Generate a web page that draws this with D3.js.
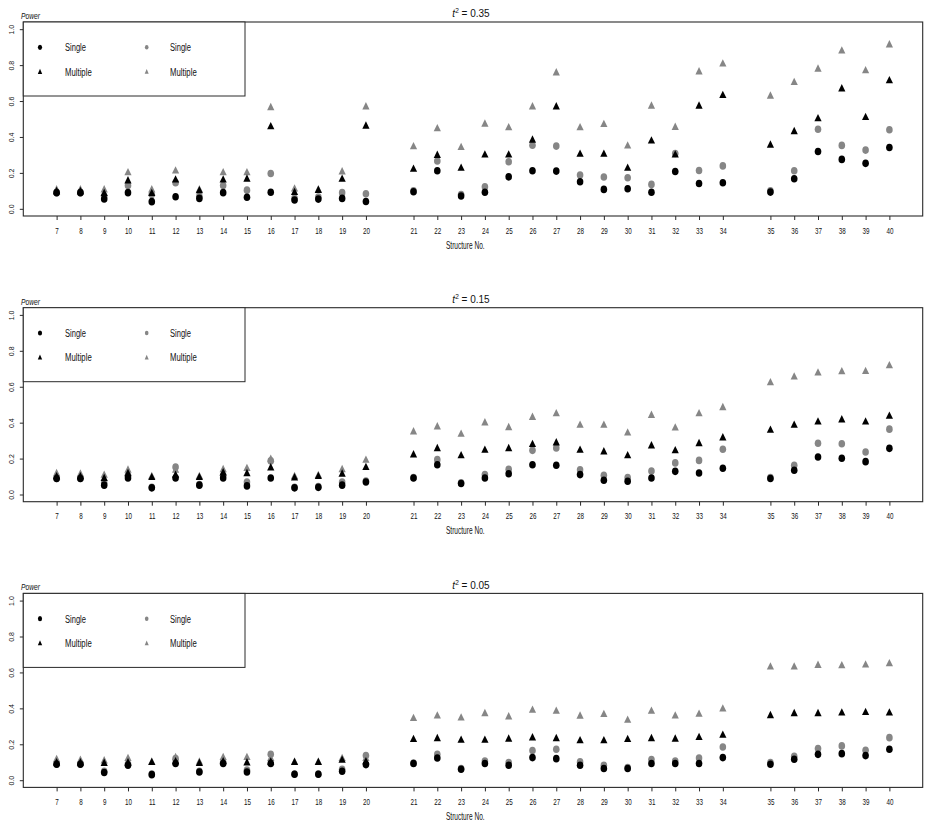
<!DOCTYPE html>
<html><head><meta charset="utf-8">
<script src="https://cdn.jsdelivr.net/npm/d3@7"></script>
<style>
body{margin:0;background:#fff}
svg{display:block;font-family:"Liberation Sans",Arial,Helvetica,sans-serif}
</style>
</head><body>
<svg id="chart" width="935" height="828"></svg>
<script>
// ---------- data ----------
const structureGroups = [
  [7,8,9,10,11,12,13,14,15,16,17,18,19,20],
  [21,22,23,24,25,26,27,28,29,30,31,32,33,34],
  [35,36,37,38,39,40]
];
const yTicks = [0, 0.2, 0.4, 0.6, 0.8, 1.0];
const panelT2 = ["0.35", "0.15", "0.05"];
const legendLabels = ["Single", "Multiple"];

// t^2 = 0.35
const t035_singleBlack   = [0.09,0.09,0.055,0.09,0.04,0.067,0.058,0.09,0.064,0.092,0.049,0.054,0.058,0.041,0.095,0.212,0.071,0.092,0.178,0.212,0.21,0.151,0.108,0.112,0.092,0.208,0.141,0.145,0.093,0.167,0.319,0.275,0.253,0.341];
const t035_multipleBlack = [0.095,0.095,0.085,0.155,0.085,0.16,0.1,0.16,0.165,0.456,0.09,0.102,0.164,0.46,0.22,0.297,0.225,0.299,0.299,0.382,0.567,0.303,0.303,0.225,0.377,0.299,0.571,0.63,0.354,0.429,0.501,0.667,0.508,0.712];
const t035_singleGrey    = [0.09,0.09,0.07,0.13,0.08,0.145,0.07,0.13,0.104,0.197,0.058,0.065,0.09,0.084,0.1,0.266,0.08,0.123,0.262,0.354,0.349,0.188,0.177,0.173,0.136,0.308,0.213,0.239,0.1,0.212,0.443,0.353,0.327,0.44];
const t035_multipleGrey  = [0.105,0.105,0.105,0.2,0.105,0.21,0.105,0.2,0.2,0.563,0.11,0.105,0.205,0.567,0.345,0.445,0.341,0.471,0.451,0.567,0.756,0.451,0.469,0.349,0.571,0.453,0.762,0.806,0.627,0.703,0.777,0.878,0.768,0.912];

// t^2 = 0.15
const t015_singleBlack   = [0.089,0.089,0.052,0.092,0.037,0.092,0.052,0.092,0.048,0.092,0.037,0.04,0.052,0.07,0.092,0.166,0.061,0.092,0.116,0.166,0.163,0.111,0.079,0.074,0.092,0.129,0.12,0.146,0.089,0.135,0.209,0.202,0.183,0.257];
const t015_multipleBlack = [0.098,0.098,0.089,0.116,0.094,0.107,0.094,0.12,0.116,0.148,0.092,0.1,0.113,0.15,0.22,0.255,0.215,0.246,0.255,0.278,0.287,0.246,0.237,0.215,0.27,0.243,0.283,0.315,0.357,0.385,0.403,0.415,0.403,0.435];
const t015_singleGrey    = [0.09,0.09,0.066,0.107,0.04,0.153,0.055,0.107,0.07,0.187,0.04,0.045,0.07,0.075,0.095,0.194,0.065,0.111,0.14,0.246,0.259,0.138,0.107,0.094,0.131,0.176,0.19,0.252,0.094,0.163,0.285,0.283,0.237,0.364];
const t015_multipleGrey  = [0.116,0.113,0.107,0.135,0.1,0.135,0.1,0.138,0.144,0.196,0.1,0.105,0.138,0.19,0.348,0.376,0.335,0.398,0.372,0.429,0.449,0.385,0.385,0.342,0.44,0.37,0.449,0.483,0.622,0.654,0.676,0.683,0.684,0.716];

// t^2 = 0.05
const t005_singleBlack   = [0.089,0.089,0.043,0.083,0.031,0.093,0.046,0.093,0.046,0.093,0.033,0.033,0.05,0.087,0.093,0.124,0.061,0.093,0.083,0.126,0.12,0.083,0.065,0.065,0.093,0.093,0.093,0.126,0.089,0.117,0.144,0.148,0.137,0.172];
const t005_multipleBlack = [0.096,0.096,0.093,0.096,0.098,0.102,0.093,0.102,0.096,0.1,0.098,0.098,0.111,0.102,0.226,0.231,0.222,0.222,0.228,0.235,0.231,0.219,0.219,0.226,0.231,0.228,0.237,0.25,0.359,0.37,0.37,0.374,0.376,0.374];
const t005_singleGrey    = [0.09,0.09,0.05,0.09,0.035,0.12,0.05,0.1,0.056,0.144,0.035,0.035,0.061,0.137,0.095,0.144,0.065,0.107,0.098,0.165,0.172,0.102,0.083,0.07,0.115,0.107,0.124,0.185,0.098,0.133,0.176,0.191,0.167,0.237];
const t005_multipleGrey  = [0.115,0.111,0.107,0.12,0.1,0.125,0.1,0.126,0.126,0.12,0.1,0.1,0.12,0.12,0.343,0.357,0.346,0.37,0.352,0.389,0.383,0.356,0.365,0.333,0.383,0.357,0.367,0.396,0.63,0.63,0.639,0.637,0.641,0.648];

// ---------- build ----------
const panels = [
  {t2: panelT2[0], sb: t035_singleBlack, mb: t035_multipleBlack, sg: t035_singleGrey, mg: t035_multipleGrey},
  {t2: panelT2[1], sb: t015_singleBlack, mb: t015_multipleBlack, sg: t015_singleGrey, mg: t015_multipleGrey},
  {t2: panelT2[2], sb: t005_singleBlack, mb: t005_multipleBlack, sg: t005_singleGrey, mg: t005_multipleGrey}
];

const structures = structureGroups.flat();
// plotting position: consecutive within group, one empty slot between groups
const posOf = new Map();
{
  let i = 0;
  structureGroups.forEach((g, gi) => g.forEach(s => { posOf.set(s, i + gi); i++; }));
}
const posMax = d3.max(structures, s => posOf.get(s));
const ext = 0.04 * posMax;

const BLACK = "#000", GREY = "#868686", FRAME = "#2a2a2a";
const L = 23.3, R = 922.7, T = 22, B = 216, PANEL_H = 285.7;

const x = d3.scaleLinear().domain([-ext, posMax + ext]).range([L, R]);
const y = d3.scaleLinear().domain([-0.04, 1.04]).range([B, T]);

const svg = d3.select("#chart");

function circle(g, cx, cy, rx, ry, col) {
  g.append("ellipse").attr("cx", cx).attr("cy", cy).attr("rx", rx).attr("ry", ry).attr("fill", col);
}
function tri(g, cx, cy, r, hw, col) {
  g.append("path")
    .attr("d", `M${cx},${cy - r}L${cx + hw},${cy + r / 2}L${cx - hw},${cy + r / 2}Z`)
    .attr("fill", col);
}

panels.forEach((p, pi) => {
  const g = svg.append("g").attr("transform", `translate(0,${pi * PANEL_H})`);

  // x axis
  const xa = g.append("g").attr("transform", `translate(0,${B})`)
    .call(d3.axisBottom(x)
      .tickValues(structures.map(s => posOf.get(s)))
      .tickFormat((d, i) => structures[i])
      .tickSize(4));
  xa.select(".domain").remove();
  xa.selectAll(".tick line").attr("stroke", FRAME);
  xa.selectAll(".tick text")
    .attr("y", 0).attr("dy", null)
    .attr("font-size", 9.5).attr("fill", "#111")
    .attr("font-family", '"Liberation Sans",Arial,sans-serif')
    .attr("transform", "translate(0,17.6) scale(0.66,1)");

  // y axis
  const ya = g.append("g").attr("transform", `translate(${L},0)`)
    .call(d3.axisLeft(y).tickValues(yTicks).tickFormat(d3.format(".1f")).tickSize(3.5));
  ya.select(".domain").remove();
  ya.selectAll(".tick line").attr("stroke", FRAME);
  ya.selectAll(".tick text")
    .attr("x", 0).attr("dy", null).attr("y", 0)
    .attr("font-size", 7).attr("fill", "#111")
    .attr("font-family", '"Liberation Sans",Arial,sans-serif')
    .attr("text-anchor", "middle")
    .attr("transform", `translate(${14 - L},0) rotate(-90)`);

  // frame
  g.append("rect").attr("x", L).attr("y", T).attr("width", R - L).attr("height", B - T)
    .attr("fill", "none").attr("stroke", FRAME).attr("stroke-width", 1.1);

  // titles
  const title = g.append("text").attr("x", 471).attr("y", 17.3)
    .attr("text-anchor", "middle").attr("font-size", 10).attr("fill", "#111");
  title.append("tspan").attr("font-style", "italic").text("t");
  title.append("tspan").attr("font-size", 6.5).attr("dy", -4).text("2");
  title.append("tspan").attr("dy", 4).text(" = " + p.t2);

  g.append("text").attr("x", 21).attr("y", 19).attr("font-size", 9)
    .attr("font-style", "italic").attr("fill", "#111")
    .attr("textLength", 19).attr("lengthAdjust", "spacingAndGlyphs").text("Power");

  g.append("text").attr("x", 446).attr("y", 248.5).attr("font-size", 11).attr("fill", "#111")
    .attr("textLength", 38.6).attr("lengthAdjust", "spacingAndGlyphs").text("Structure No.");

  // legend
  g.append("rect").attr("x", L).attr("y", T).attr("width", 245 - L).attr("height", 96 - T)
    .attr("fill", "#fff").attr("stroke", FRAME).attr("stroke-width", 1);
  const lg = g.append("g");
  circle(lg, 40, 47.3, 2.1, 2.6, BLACK);
  tri(lg, 40, 72.2, 3.4, 2.2, BLACK);
  circle(lg, 146.7, 47.3, 1.8, 2.2, GREY);
  tri(lg, 146.7, 72.2, 3.1, 2.0, GREY);
  [[65, BLACK], [170, GREY]].forEach(([lx]) => {
    lg.append("text").attr("x", lx).attr("y", 51.3).attr("font-size", 10).attr("fill", "#111")
      .attr("textLength", 21).attr("lengthAdjust", "spacingAndGlyphs").text(legendLabels[0]);
    lg.append("text").attr("x", lx).attr("y", 75.6).attr("font-size", 10).attr("fill", "#111")
      .attr("textLength", 26.7).attr("lengthAdjust", "spacingAndGlyphs").text(legendLabels[1]);
  });

  // points (grey first, black on top)
  const pts = g.append("g");
  structures.forEach((s, i) => {
    const cx = x(posOf.get(s));
    circle(pts, cx, y(p.sg[i]), 3.3, 3.8, GREY);
    tri(pts, cx, y(p.mg[i]), 4.9, 3.6, GREY);
  });
  structures.forEach((s, i) => {
    const cx = x(posOf.get(s));
    circle(pts, cx, y(p.sb[i]), 3.3, 3.8, BLACK);
    tri(pts, cx, y(p.mb[i]), 4.9, 3.6, BLACK);
  });
});
</script>
</body></html>
